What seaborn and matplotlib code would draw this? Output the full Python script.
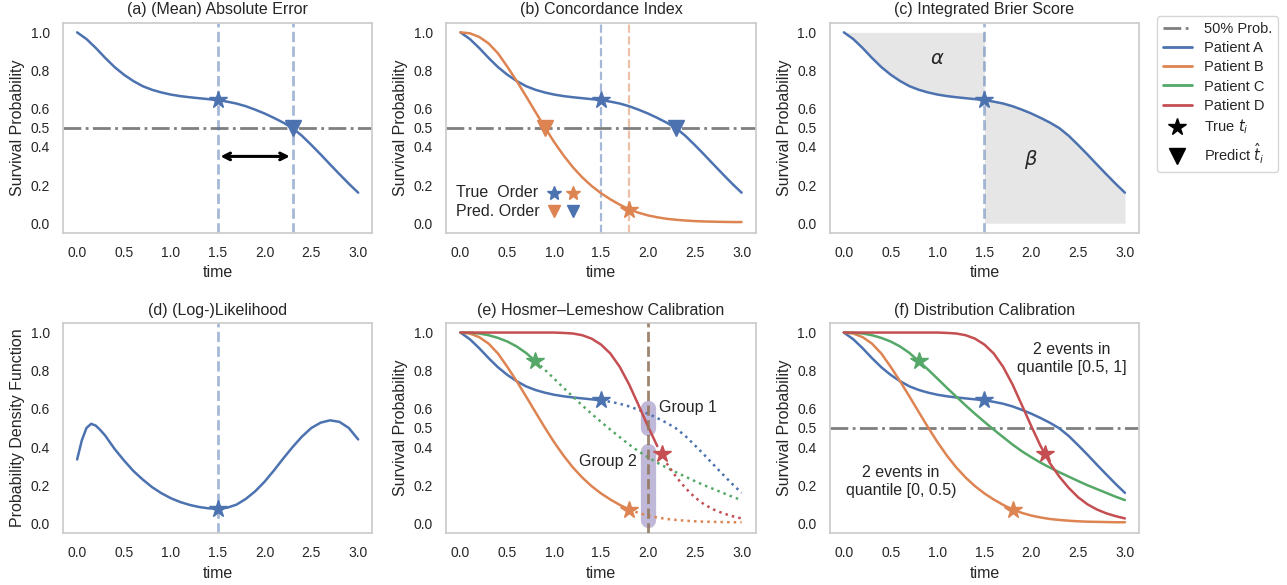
import matplotlib
matplotlib.use("Agg")

import matplotlib.pyplot as plt
import seaborn as sns
from matplotlib.lines import Line2D


# time grid (0.0 .. 3.0 in steps of 0.1) and survival curves
TIME = [round(0.1 * i, 1) for i in range(31)]

SURV_A = [1.000, 0.965, 0.918, 0.866, 0.818, 0.778, 0.745, 0.718, 0.699, 0.685,
          0.674, 0.666, 0.660, 0.655, 0.650, 0.645, 0.637, 0.627, 0.613, 0.595,
          0.575, 0.552, 0.527, 0.498, 0.458, 0.410, 0.360, 0.308, 0.257, 0.207,
          0.160]
SURV_B = [1.000, 0.995, 0.976, 0.942, 0.890, 0.820, 0.745, 0.665, 0.583, 0.502,
          0.425, 0.355, 0.293, 0.240, 0.195, 0.157, 0.125, 0.097, 0.073, 0.055,
          0.041, 0.031, 0.023, 0.018, 0.014, 0.011, 0.009, 0.008, 0.007, 0.006,
          0.006]
SURV_C = [1.000, 0.999, 0.995, 0.986, 0.972, 0.953, 0.927, 0.893, 0.850, 0.805,
          0.758, 0.710, 0.664, 0.618, 0.574, 0.532, 0.491, 0.452, 0.413, 0.378,
          0.347, 0.318, 0.292, 0.268, 0.245, 0.222, 0.200, 0.180, 0.160, 0.140,
          0.122]
SURV_D = [1.000, 1.000, 1.000, 1.000, 1.000, 1.000, 1.000, 1.000, 1.000, 1.000,
          1.000, 0.998, 0.995, 0.986, 0.968, 0.937, 0.890, 0.820, 0.728, 0.620,
          0.510, 0.405, 0.315, 0.245, 0.186, 0.137, 0.100, 0.073, 0.053, 0.038,
          0.026]

# density of patient A, finer sampling near the first peak
PDF_TIME = [0.0, 0.05, 0.10, 0.15, 0.20, 0.25, 0.3, 0.4, 0.5, 0.6, 0.7, 0.8, 0.9,
            1.0, 1.1, 1.2, 1.3, 1.4, 1.5, 1.6, 1.7, 1.8, 1.9, 2.0, 2.1, 2.2, 2.3,
            2.4, 2.5, 2.6, 2.7, 2.8, 2.9, 3.0]
PDF_A = [0.335, 0.435, 0.500, 0.522, 0.512, 0.488, 0.460, 0.390, 0.330, 0.275,
         0.230, 0.190, 0.158, 0.132, 0.112, 0.097, 0.086, 0.079, 0.077, 0.082,
         0.098, 0.128, 0.168, 0.218, 0.277, 0.340, 0.400, 0.455, 0.500, 0.528,
         0.540, 0.532, 0.500, 0.440]

PATIENTS = ["Patient A", "Patient B", "Patient C", "Patient D"]
CURVES = [SURV_A, SURV_B, SURV_C, SURV_D]
EVENT_TIME = [1.5, 1.8, 0.8, 2.15]
EVENT_SURV = [0.645, 0.07, 0.85, 0.365]
MEDIAN_TIME = [2.3, 0.9]  # predicted (median) times for A and B
PDF_AT_EVENT = 0.077

HL_TIME = 2.0
GROUP1 = [0.50, 0.604]
GROUP2 = [0.019, 0.377]

SURV_TICKS = [0.0, 0.2, 0.4, 0.5, 0.6, 0.8, 1.0]
PDF_TICKS = [0.0, 0.2, 0.4, 0.6, 0.8, 1.0]
TIME_TICKS = [0.0, 0.5, 1.0, 1.5, 2.0, 2.5, 3.0]

sns.set_theme(style="whitegrid", rc={"axes.grid": False})
plt.rcParams["font.family"] = ["Liberation Sans", "DejaVu Sans"]

pal = sns.color_palette("deep")
BLUE, ORANGE, GREEN, RED, PURPLE, BROWN = pal[0], pal[1], pal[2], pal[3], pal[4], pal[5]
COLORS = [BLUE, ORANGE, GREEN, RED]
GRAY = "#7f7f7f"
LW = 1.8
STAR_MS = 13
TRI_MS = 12
NOTE_FS = 11.5
LABEL_FS = 11.5

fig, axes = plt.subplots(2, 3, figsize=(12.87, 5.85), dpi=100)
fig.subplots_adjust(left=0.049, right=0.885, bottom=0.089, top=0.961,
                    wspace=0.24, hspace=0.43)


def style_axis(ax, title, ylabel="Survival Probability", yticks=SURV_TICKS):
    ax.set_title(title, fontsize=LABEL_FS)
    ax.set_xlabel("time", fontsize=LABEL_FS)
    ax.set_ylabel(ylabel, fontsize=LABEL_FS)
    ax.set_xticks(TIME_TICKS)
    ax.set_xticklabels([f"{t:.1f}" for t in TIME_TICKS])
    ax.set_yticks(yticks)
    ax.set_yticklabels([f"{v:.1f}" for v in yticks])
    ax.tick_params(labelsize=10)
    ax.set_xlim(-0.15, 3.15)
    ax.set_ylim(-0.05, 1.05)


def half_line(ax):
    ax.axhline(0.5, color=GRAY, ls="-.", lw=2.0, zorder=1)


def star(ax, x, y, color, ms=STAR_MS):
    ax.plot([x], [y], marker="*", ms=ms, color=color, mec=color, ls="none", zorder=5)


def tri(ax, x, y, color, ms=TRI_MS):
    ax.plot([x], [y], marker="v", ms=ms, color=color, mec=color, ls="none", zorder=5)


# (a) absolute error
ax = axes[0, 0]
half_line(ax)
ax.axvline(EVENT_TIME[0], color=BLUE, alpha=0.5, ls="--", lw=2.0)
ax.axvline(MEDIAN_TIME[0], color=BLUE, alpha=0.5, ls="--", lw=2.0)
sns.lineplot(x=TIME, y=SURV_A, ax=ax, color=BLUE, linewidth=LW)
star(ax, EVENT_TIME[0], EVENT_SURV[0], BLUE)
tri(ax, MEDIAN_TIME[0], 0.5, BLUE)
ax.annotate("", xy=(MEDIAN_TIME[0], 0.35), xytext=(EVENT_TIME[0], 0.35),
            arrowprops=dict(arrowstyle="<->", color="black", lw=2.2))
style_axis(ax, "(a) (Mean) Absolute Error")

# (b) concordance index
ax = axes[0, 1]
half_line(ax)
ax.axvline(EVENT_TIME[0], color=BLUE, alpha=0.5, ls="--", lw=1.6)
ax.axvline(EVENT_TIME[1], color=ORANGE, alpha=0.5, ls="--", lw=1.6)
sns.lineplot(x=TIME, y=SURV_A, ax=ax, color=BLUE, linewidth=LW)
sns.lineplot(x=TIME, y=SURV_B, ax=ax, color=ORANGE, linewidth=LW)
star(ax, EVENT_TIME[0], EVENT_SURV[0], BLUE)
star(ax, EVENT_TIME[1], EVENT_SURV[1], ORANGE)
tri(ax, MEDIAN_TIME[0], 0.5, BLUE)
tri(ax, MEDIAN_TIME[1], 0.5, ORANGE)
ax.text(-0.05, 0.16, "True  Order", fontsize=NOTE_FS, va="center", ha="left")
ax.text(-0.05, 0.062, "Pred. Order", fontsize=NOTE_FS, va="center", ha="left")
star(ax, 1.0, 0.16, BLUE, ms=10)
star(ax, 1.2, 0.16, ORANGE, ms=10)
tri(ax, 1.0, 0.062, ORANGE, ms=9)
tri(ax, 1.2, 0.062, BLUE, ms=9)
style_axis(ax, "(b) Concordance Index")

# (c) integrated brier score
ax = axes[0, 2]
t_before = [t for t in TIME if t <= EVENT_TIME[0]]
s_before = SURV_A[:len(t_before)]
t_after = TIME[len(t_before) - 1:]
s_after = SURV_A[len(t_before) - 1:]
ax.fill_between(t_before, s_before, 1.0, color="0.9", lw=0)
ax.fill_between(t_after, 0.0, s_after, color="0.9", lw=0)
ax.axvline(EVENT_TIME[0], color=BLUE, alpha=0.5, ls="--", lw=2.0)
sns.lineplot(x=TIME, y=SURV_A, ax=ax, color=BLUE, linewidth=LW)
star(ax, EVENT_TIME[0], EVENT_SURV[0], BLUE)
ax.text(1.0, 0.86, r"$\alpha$", fontsize=14, ha="center", va="center", color=".15")
ax.text(2.0, 0.335, r"$\beta$", fontsize=14, ha="center", va="center", color=".15")
style_axis(ax, "(c) Integrated Brier Score")

# (d) likelihood
ax = axes[1, 0]
ax.axvline(EVENT_TIME[0], color=BLUE, alpha=0.5, ls="--", lw=2.0)
sns.lineplot(x=PDF_TIME, y=PDF_A, ax=ax, color=BLUE, linewidth=LW)
star(ax, EVENT_TIME[0], PDF_AT_EVENT, BLUE)
style_axis(ax, "(d) (Log-)Likelihood", ylabel="Probability Density Function",
           yticks=PDF_TICKS)

# (e) hosmer-lemeshow
ax = axes[1, 1]
ax.plot([HL_TIME, HL_TIME], GROUP1, color=PURPLE, alpha=0.5, lw=11,
        solid_capstyle="round", zorder=1)
ax.plot([HL_TIME, HL_TIME], GROUP2, color=PURPLE, alpha=0.5, lw=11,
        solid_capstyle="round", zorder=1)
for curve, color, t_ev in zip(CURVES, COLORS, EVENT_TIME):
    solid_t = [t for t in TIME if t <= t_ev + 0.05]
    dot_t = [t for t in TIME if t >= t_ev - 0.001]
    sns.lineplot(x=solid_t, y=curve[:len(solid_t)], ax=ax, color=color, linewidth=LW)
    sns.lineplot(x=dot_t, y=curve[len(TIME) - len(dot_t):], ax=ax, color=color,
                 linewidth=LW, linestyle=":")
ax.axvline(HL_TIME, color=BROWN, alpha=0.9, ls="--", lw=2.0, zorder=3)
for t_ev, s_ev, color in zip(EVENT_TIME, EVENT_SURV, COLORS):
    star(ax, t_ev, s_ev, color)
ax.text(2.12, 0.605, "Group 1", fontsize=NOTE_FS, ha="left", va="center")
ax.text(1.88, 0.325, "Group 2", fontsize=NOTE_FS, ha="right", va="center")
style_axis(ax, "(e) Hosmer\u2013Lemeshow Calibration")

# (f) distribution calibration
ax = axes[1, 2]
half_line(ax)
for curve, color in zip(CURVES, COLORS):
    sns.lineplot(x=TIME, y=curve, ax=ax, color=color, linewidth=LW)
for t_ev, s_ev, color in zip(EVENT_TIME, EVENT_SURV, COLORS):
    star(ax, t_ev, s_ev, color)
ax.text(2.43, 0.865, "2 events in\nquantile [0.5, 1]", fontsize=NOTE_FS,
        ha="center", va="center")
ax.text(0.61, 0.22, "2 events in\nquantile [0, 0.5)", fontsize=NOTE_FS,
        ha="center", va="center")
style_axis(ax, "(f) Distribution Calibration")

handles = [Line2D([], [], color=GRAY, ls="-.", lw=2.0, label="50% Prob.")]
for name, color in zip(PATIENTS, COLORS):
    handles.append(Line2D([], [], color=color, lw=2.0, label=name))
handles.append(Line2D([], [], color="black", marker="*", ms=STAR_MS, ls="none",
                      label=r"True $t_i$"))
handles.append(Line2D([], [], color="black", marker="v", ms=TRI_MS, ls="none",
                      label=r"Predict $\hat{t}_i$"))
fig.legend(handles=handles, loc="upper left", bbox_to_anchor=(0.899, 0.972),
           fontsize=10.5, labelspacing=0.35, borderaxespad=0.0)

fig.savefig("out.png", dpi=100)
